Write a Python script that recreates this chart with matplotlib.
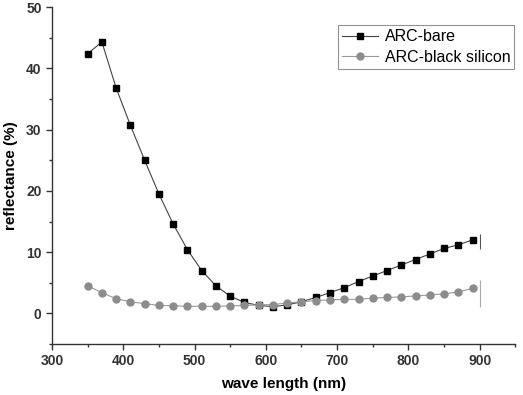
import matplotlib
matplotlib.use("Agg")
import matplotlib.pyplot as plt
from matplotlib.ticker import MultipleLocator

plt.rcParams["font.family"] = ["Liberation Sans", "DejaVu Sans"]

wavelength = [350, 370, 390, 410, 430, 450, 470, 490, 510, 530, 550, 570, 590, 610,
              630, 650, 670, 690, 710, 730, 750, 770, 790, 810, 830, 850, 870, 890]
arc_bare = [42.4, 44.3, 36.8, 30.7, 25.0, 19.5, 14.6, 10.4, 7.0, 4.5, 2.8, 1.8, 1.3, 1.1,
            1.4, 1.9, 2.6, 3.4, 4.2, 5.2, 6.1, 7.0, 7.9, 8.8, 9.7, 10.6, 11.2, 12.0]
arc_black = [4.5, 3.4, 2.4, 1.9, 1.6, 1.3, 1.25, 1.15, 1.15, 1.15, 1.25, 1.3, 1.4, 1.45,
             1.7, 1.9, 2.1, 2.2, 2.3, 2.3, 2.5, 2.6, 2.7, 2.85, 3.0, 3.2, 3.5, 4.1]

fig = plt.figure(figsize=(5.23, 3.95), dpi=100)
ax = fig.add_axes([0.0994, 0.129, 0.886, 0.853])

ax.plot(wavelength, arc_bare, color="#444444", lw=0.8, marker="s", ms=4.5,
        mfc="black", mec="black", label="ARC-bare")
ax.plot(wavelength, arc_black, color="#999999", lw=0.8, marker="o", ms=5,
        mfc="#8c8c8c", mec="#8c8c8c", label="ARC-black silicon")
# end marks at 900 nm
ax.vlines(900, 10.5, 12.9, color="#555555", lw=0.8)
ax.vlines(900, 1.1, 5.5, color="#aaaaaa", lw=0.8)

ax.set_xlim(300, 950)
ax.set_ylim(-5, 50)
ax.xaxis.set_minor_locator(MultipleLocator(50))
ax.yaxis.set_minor_locator(MultipleLocator(5))
ax.set_xticks([300, 400, 500, 600, 700, 800, 900])
ax.set_yticks([0, 10, 20, 30, 40, 50])
for s in ["top", "right"]:
    ax.spines[s].set_visible(False)
for s in ["left", "bottom"]:
    ax.spines[s].set_color("#333333")
    ax.spines[s].set_linewidth(1.0)
ax.tick_params(which="major", length=4, width=1, colors="#333333", labelsize=10)
ax.tick_params(which="minor", length=2.5, width=1, colors="#333333")
for lab in ax.get_xticklabels() + ax.get_yticklabels():
    lab.set_fontweight("bold")

ax.set_xlabel("wave length (nm)", fontsize=11, fontweight="bold", labelpad=6)
ax.set_ylabel("reflectance (%)", fontsize=11, fontweight="bold", labelpad=6)

leg = ax.legend(loc="upper right", bbox_to_anchor=(1.005, 0.955), fontsize=11.5,
                frameon=True, fancybox=False, handlelength=2.3, borderpad=0.25,
                labelspacing=0.35, handletextpad=0.4, borderaxespad=0.2)
leg.get_frame().set_edgecolor("#777777")
leg.get_frame().set_linewidth(0.8)

fig.savefig("out.png", dpi=100)
